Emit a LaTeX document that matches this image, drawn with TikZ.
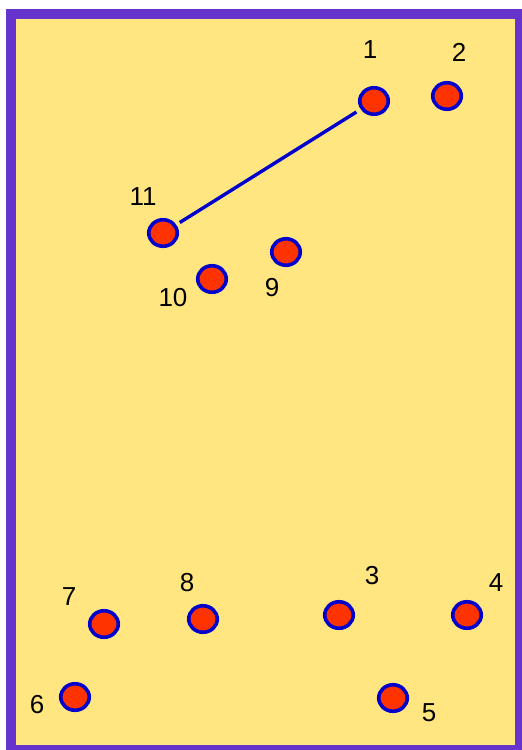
\documentclass[tikz,border=0pt]{standalone}
\usepackage{fontspec}
\setmainfont{Liberation Sans}
\usetikzlibrary{shapes.geometric}
\definecolor{FramePurple}{RGB}{102,51,204}
\definecolor{FieldYellow}{RGB}{255,230,128}
\definecolor{DotRed}{RGB}{255,51,0}
\definecolor{DotBlue}{RGB}{0,0,204}

\begin{document}
\begin{tikzpicture}[x=1pt,y=-1pt,
 dot/.style={draw=DotBlue,fill=DotRed,ellipse,line width=3.6pt,minimum width=28.5pt,minimum height=26.5pt,inner sep=0pt},
 num/.style={inner sep=0pt,font=\fontsize{26}{30}\selectfont}]
\useasboundingbox (0,0) rectangle (522,750);
\fill[FramePurple] (6,9) rectangle (522,750);
\fill[FieldYellow] (16,19) rectangle (515,745);
% players
\node[dot] (p1) at (374,101) {};
\node[dot] (p2) at (447,96) {};
\node[dot] (p3) at (339,615) {};
\node[dot] (p4) at (467,615) {};
\node[dot] (p5) at (393,698) {};
\node[dot] (p6) at (75,697) {};
\node[dot] (p7) at (104,624) {};
\node[dot] (p8) at (203,619) {};
\node[dot] (p9) at (286,252) {};
\node[dot] (p10) at (212,279) {};
\node[dot] (p11) at (163,233) {};
% numbers
\node[num] (l1) at (370,50) {1};
\node[num] (l2) at (459,52) {2};
\node[num] (l3) at (372,576) {3};
\node[num] (l4) at (496,583) {4};
\node[num] (l5) at (429,713) {5};
\node[num] (l6) at (37,705) {6};
\node[num] (l7) at (69,597) {7};
\node[num] (l8) at (187,583) {8};
\node[num] (l9) at (272,288) {9};
\node[num] (l10) at (173,298) {10};
\node[num] (l11) at (143,197) {11};
% pass
\draw[DotBlue,line width=3.4pt,shorten <=4pt,shorten >=5pt] (p11) -- (p1);
\end{tikzpicture}
\end{document}
